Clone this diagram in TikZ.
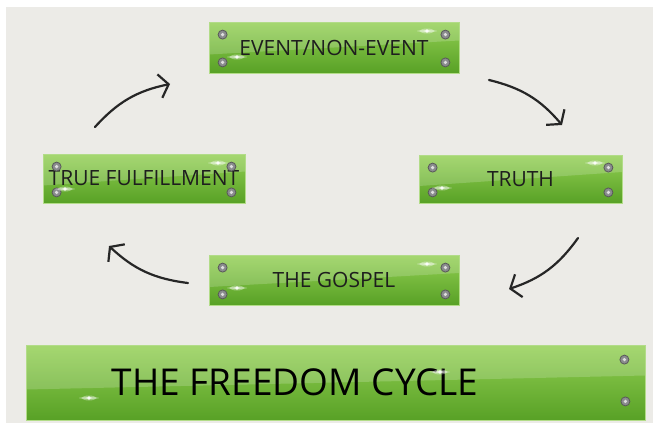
\documentclass[tikz,border=0pt]{standalone}
\usepackage{fontspec}
\setmainfont{Open Sans}
\usetikzlibrary{arrows.meta}

\definecolor{paper}{HTML}{ECEBE7}
\definecolor{plateTop}{HTML}{92CF52}
\definecolor{plateBot}{HTML}{58A126}
\definecolor{plateEdge}{HTML}{B2DC88}
\definecolor{ink}{HTML}{1E1E1E}
\definecolor{screwGray}{HTML}{8A8C8E}

% screw head at a plate corner
\newcommand{\screw}[1]{%
  \fill[screwGray] (#1) circle(4.5);
  \draw[black!65, line width=0.8] (#1) circle(4.5);
  \fill[white!75!gray] (#1) circle(1.8);
}
% small white glint
\newcommand{\glint}[1]{%
  \fill[white, opacity=0.35] (#1) ellipse(7 and 2.5);
  \fill[white, opacity=0.5] (#1) ellipse(10 and 0.8);
  \fill[white, opacity=0.9] (#1) circle(1.8);
}

\begin{document}
\begin{tikzpicture}[x=1pt, y=-1pt,
  plate/.style={draw=plateEdge, line width=0.8, top color=plateTop,
    bottom color=plateBot, inner sep=0, text=ink,
    font=\fontsize{21}{21}\selectfont,
    path picture={\fill[white, opacity=0.18]
      (path picture bounding box.north west) --
      (path picture bounding box.north east) --
      ([yshift=7]path picture bounding box.east) --
      ([yshift=-7]path picture bounding box.west) -- cycle;}},
  cyc/.style={line width=2.2, line cap=round, black!85,
    -{Straight Barb[length=9, width=24, line width=2.2]}}]

\useasboundingbox (0,0) rectangle (653,423);
\fill[paper] (6,7) rectangle (653,423);

%------------------ PLATES ------------------%
\node[plate, minimum width=250, minimum height=51] (event)  at (334,47.5) {EVENT/NON-EVENT};
\node[plate, minimum width=203, minimum height=48] (truth)  at (520.5,179) {TRUTH};
\node[plate, minimum width=250, minimum height=50] (gospel) at (334,280) {THE GOSPEL};
\node[plate, minimum width=202, minimum height=49] (fulfil) at (144,178.5) {TRUE FULFILLMENT};
\node[plate, minimum width=619, minimum height=75] (title)  at (335.5,382.5) {};
\node[text=black, font=\fontsize{37}{37}\selectfont] (titletext) at (295,382.5) {THE FREEDOM CYCLE};

%------------------ SCREWS ------------------%
\foreach \n in {event, truth, gospel, fulfil} {
  \screw{[xshift=14, yshift=-13]\n.north west}
  \screw{[xshift=14, yshift=11]\n.south west}
  \screw{[xshift=-14, yshift=-13]\n.north east}
  \screw{[xshift=-14, yshift=11]\n.south east}
}
\screw{[xshift=-21, yshift=-15]title.north east}
\screw{[xshift=-20, yshift=19]title.south east}

%------------------ GLINTS ------------------%
\glint{427,31}  \glint{237,57}
\glint{218,163} \glint{65,189}
\glint{595,163} \glint{442,188}
\glint{427,264} \glint{237,288}
\glint{440,372} \glint{89,398}

%------------------ CYCLE ARROWS ------------------%
\coordinate (a1s) at (95,127);  \coordinate (a1e) at (170,84);
\coordinate (a2s) at (489,80);  \coordinate (a2e) at (562,125);
\coordinate (a3s) at (578,238); \coordinate (a3e) at (509,289);
\coordinate (a4s) at (188,283); \coordinate (a4e) at (109,246);

\draw[cyc] (a1s) to[bend left=18] (a1e);
\draw[cyc] (a2s) to[bend left=18] (a2e);
\draw[cyc] (a3s) to[bend left=18] (a3e);
\draw[cyc] (a4s) to[bend left=18] (a4e);

\end{tikzpicture}
\end{document}
